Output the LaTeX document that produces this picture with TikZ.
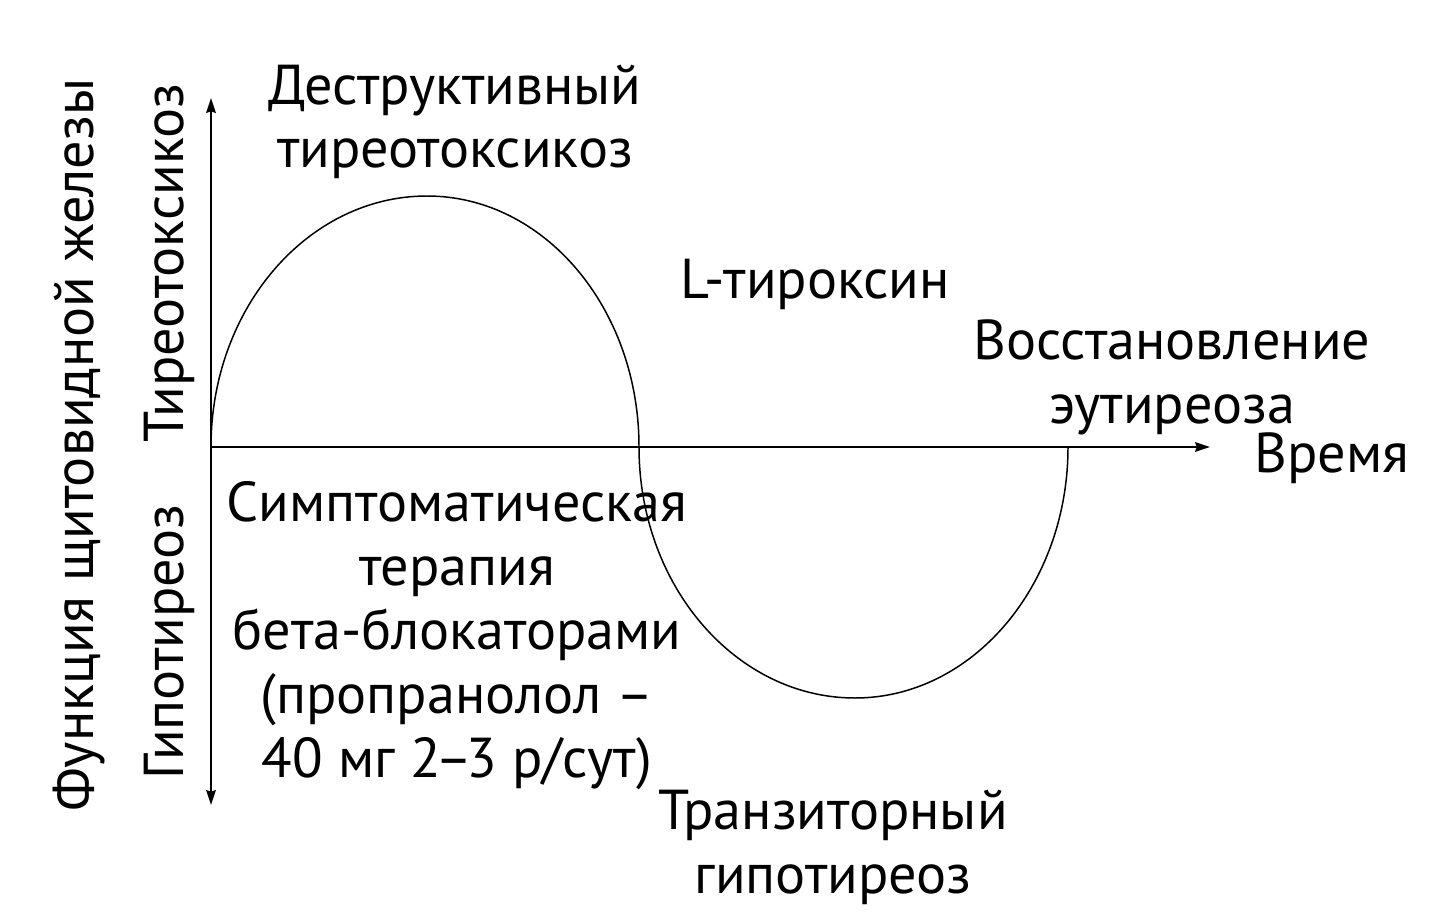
\documentclass[tikz,border=0pt]{standalone}
\usepackage{fontspec}
\setmainfont{PT Sans}
\usetikzlibrary{arrows.meta}
\begin{document}
\begin{tikzpicture}[x=0.02cm,y=-0.02cm,>={Stealth[length=8.5pt,width=5.5pt,inset=1pt]},
    lbl/.style={inner sep=0pt,align=center,font=\fontsize{32}{36.4}\selectfont},
    axis/.style={line width=1.1pt}]
    \useasboundingbox (0,0) rectangle (1440,922);
    \coordinate (O) at (211,447);
    \coordinate (ytop) at (211,98);
    \coordinate (ybot) at (211,805);
    \coordinate (xend) at (1210,447);
    \coordinate (peak) at (427,196);
    \coordinate (cross) at (639,447);
    \coordinate (trough) at (855,698);
    \coordinate (back) at (1068,447);
    \draw[axis,<->] (ybot) -- (ytop);
    \draw[axis,->] (O) -- (xend);
    \draw[line width=0.85pt] (O) .. controls +(0,-139) and +(-119,0) .. (peak)
      .. controls +(117,0) and +(0,-139) .. (cross)
      .. controls +(0,139) and +(-119,0) .. (trough)
      .. controls +(117,0) and +(0,139) .. (back);
    % multi-line labels sit on the baseline of their last line
    \node[lbl,anchor=base] (destr) at (455,168) {Деструктивный\\тиреотоксикоз};
    \node[lbl,anchor=base] (ltyr) at (815,298) {L-тироксин};
    \node[lbl,anchor=base] (vosst) at (1172,423) {Восстановление\\эутиреоза};
    \node[lbl,anchor=base] (time) at (1332,472) {Время};
    \node[lbl,anchor=base] (sympt) at (457,777) {Симптоматическая\\терапия\\бета-блокаторами\\(пропранолол –\\40 мг 2\kern-0.1em–\kern-0.1em3 р/сут)};
    \node[lbl,anchor=base] (tranz) at (833,893) {Транзиторный\\гипотиреоз};
    \node[lbl,anchor=base,rotate=90] (func) at (93,445) {Функция щитовидной железы};
    \node[lbl,anchor=base,rotate=90] (hyper) at (183,263) {Тиреотоксикоз};
    \node[lbl,anchor=base,rotate=90] (hypo) at (183,642) {Гипотиреоз};
\end{tikzpicture}
\end{document}
